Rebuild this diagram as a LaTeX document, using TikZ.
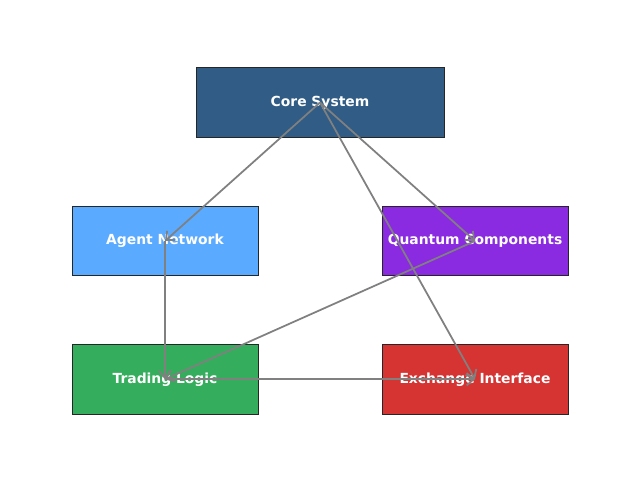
\documentclass[tikz,border=0pt]{standalone}
\usepackage{fontspec}
\setmainfont{DejaVu Sans}
\usetikzlibrary{arrows.meta}
\definecolor{coreblue}{HTML}{305C85}
\definecolor{agentblue}{HTML}{5AABFF}
\definecolor{quantumpurple}{HTML}{8A2BE2}
\definecolor{tradinggreen}{HTML}{34AD5C}
\definecolor{exchangered}{HTML}{D63333}
\definecolor{linkgray}{HTML}{808080}
\begin{document}
\begin{tikzpicture}
			[box/.style={rectangle,draw=black!85,line width=0.5pt,minimum width=3.72cm,minimum height=1.39cm},
			 boxtext/.style={text=white,font=\fontsize{7.9}{9.5}\selectfont\bfseries},
			 link/.style={draw=linkgray,line width=1pt,-{Straight Barb[length=4pt,width=7pt]}}]
			\useasboundingbox (0,0) rectangle (12.8,9.64);
			\node[box,fill=coreblue,minimum width=4.96cm,name=core] at (6.4,7.59) {};
			\node[box,fill=agentblue,name=agent] at (3.3,4.82) {};
			\node[box,fill=quantumpurple,name=quantum] at (9.5,4.82) {};
			\node[box,fill=tradinggreen,name=trading] at (3.3,2.055) {};
			\node[box,fill=exchangered,name=exchange] at (9.5,2.055) {};
			\node[boxtext,name=coretext] at (core) {Core System};
			\node[boxtext,name=agenttext] at (agent) {Agent Network};
			\node[boxtext,name=quantumtext] at (quantum) {Quantum Components};
			\node[boxtext,name=tradingtext] at (trading) {Trading Logic};
			\node[boxtext,name=exchangetext] at (exchange) {Exchange Interface};
			\draw[link](core.center)--(agent.center);
			\draw[link](core.center)--(quantum.center);
			\draw[link](core.center)--(exchange.center);
			\draw[link](agent.center)--(trading.center);
			\draw[link](quantum.center)--(trading.center);
			\draw[link](trading.center)--(exchange.center);
		\end{tikzpicture}
\end{document}
